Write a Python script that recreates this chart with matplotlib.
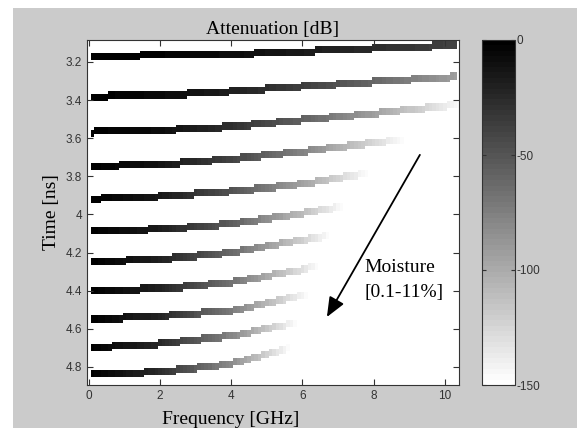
import numpy as np
import matplotlib
matplotlib.use("Agg")
import matplotlib.pyplot as plt
from matplotlib.patches import Rectangle

plt.rcParams["axes.unicode_minus"] = False

# readings per trace (one trace per moisture level): frequency [GHz], arrival time [ns], attenuation [dB]
freq_nodes = [
    [0, 2, 4, 6, 8, 10.4],
    [0, 2, 4, 6, 8, 10.4],
    [0, 2, 4, 6, 8, 10.6],
    [0, 2, 4, 6, 8, 8.9],
    [0, 2, 4, 6, 7.9],
    [0, 2, 4, 6, 7.2],
    [0, 2, 4, 6, 6.8],
    [0, 2, 4, 6, 6.5],
    [0, 2, 4, 6, 6.2],
    [0, 2, 4, 5.9],
    [0, 2, 4, 5.7],
]
time_nodes = [
    [3.175, 3.165, 3.160, 3.145, 3.130, 3.112],
    [3.382, 3.375, 3.355, 3.330, 3.305, 3.277],
    [3.568, 3.560, 3.540, 3.505, 3.470, 3.420],
    [3.746, 3.738, 3.710, 3.670, 3.625, 3.603],
    [3.920, 3.905, 3.880, 3.840, 3.780],
    [4.090, 4.078, 4.050, 3.995, 3.955],
    [4.249, 4.237, 4.200, 4.135, 4.110],
    [4.400, 4.390, 4.357, 4.290, 4.263],
    [4.552, 4.533, 4.507, 4.425, 4.415],
    [4.699, 4.680, 4.638, 4.565],
    [4.840, 4.827, 4.785, 4.700],
]
atten_nodes = [
    [0, -2, -8, -16, -26, -40],
    [0, -6, -19, -37, -60, -94],
    [0, -8, -28, -57, -93, -150],
    [0, -12, -39, -77, -125, -150],
    [0, -15, -48, -94, -150],
    [0, -17, -55, -110, -150],
    [0, -19, -61, -121, -150],
    [0, -20, -66, -131, -150],
    [0, -22, -72, -142, -150],
    [0, -24, -78, -150],
    [0, -26, -82, -150],
]

# image grid
df = 0.1
dt = 0.0125
f_edges = np.arange(0.05, 10.55, df)
t_edges = np.arange(3.08, 4.91, dt)
f_c = (f_edges[:-1] + f_edges[1:]) / 2
t_c = (t_edges[:-1] + t_edges[1:]) / 2
img = np.full((len(t_c), len(f_c)), -150.0)

for fn, tn, an in zip(freq_nodes, time_nodes, atten_nodes):
    for j, f in enumerate(f_c):
        if f > fn[-1]:
            continue
        t = np.interp(f, fn, tn)
        a = np.interp(f, fn, an)
        i = np.argmin(np.abs(t_c - t))
        for k in (i - 1, i, i + 1):
            if 0 <= k < len(t_c):
                img[k, j] = max(img[k, j], a)

fig = plt.figure(figsize=(5.77, 4.28), dpi=100, facecolor="white")
fig.patches.append(Rectangle((13 / 577, 0), 1, 420 / 428, transform=fig.transFigure,
                             facecolor="#cbcbcb", edgecolor="none", zorder=-10))

ax = fig.add_axes([87 / 577, 43 / 428, 372 / 577, 345 / 428])
cmap = plt.get_cmap("gray_r", 64)
im = ax.pcolormesh(f_edges, t_edges, img, cmap=cmap, vmin=-150, vmax=0, shading="flat")
ax.set_xlim(-0.05, 10.4)
ax.set_ylim(4.895, 3.085)
ax.set_xticks([0, 2, 4, 6, 8, 10])
ax.set_yticks([3.2, 3.4, 3.6, 3.8, 4, 4.2, 4.4, 4.6, 4.8])
ax.set_yticklabels(["3.2", "3.4", "3.6", "3.8", "4", "4.2", "4.4", "4.6", "4.8"])
ax.tick_params(direction="in", top=True, right=True, length=4, width=0.8,
               labelsize=8.5, colors="#333333", labelcolor="#333333")
for s in ax.spines.values():
    s.set_color("#333333")
    s.set_linewidth(0.8)
for lab in ax.get_xticklabels() + ax.get_yticklabels():
    lab.set_family("Liberation Sans")

serif = {"family": "Liberation Serif", "size": 14}
ax.set_title("Attenuation [dB]", fontdict=serif, pad=4)
ax.set_ylabel("Time [ns]", fontdict=serif, labelpad=4)
ax.text(4.0, -0.075, "Frequency [GHz]", fontdict=serif, transform=ax.get_xaxis_transform(),
        ha="center", va="top")

ax.annotate("", xy=(6.65, 4.551), xytext=(9.34, 3.675),
            arrowprops=dict(arrowstyle="-|>,head_length=1.2,head_width=0.5", color="black", lw=1.3))
ax.text(7.75, 4.28, "Moisture", fontdict=serif, va="center", ha="left")
ax.text(7.75, 4.41, "[0.1-11%]", fontdict=serif, va="center", ha="left")

cax = fig.add_axes([482 / 577, 43 / 428, 33 / 577, 345 / 428])
cb = fig.colorbar(im, cax=cax, ticks=[0, -50, -100, -150])
cb.outline.set_edgecolor("#333333")
cb.outline.set_linewidth(0.8)
cax.tick_params(direction="in", left=True, right=True, length=3, width=0.8,
                labelsize=8.5, colors="#333333", labelcolor="#333333", pad=1)
for lab in cax.get_yticklabels():
    lab.set_family("Liberation Sans")

fig.savefig("out.png", dpi=100, facecolor=fig.get_facecolor())
